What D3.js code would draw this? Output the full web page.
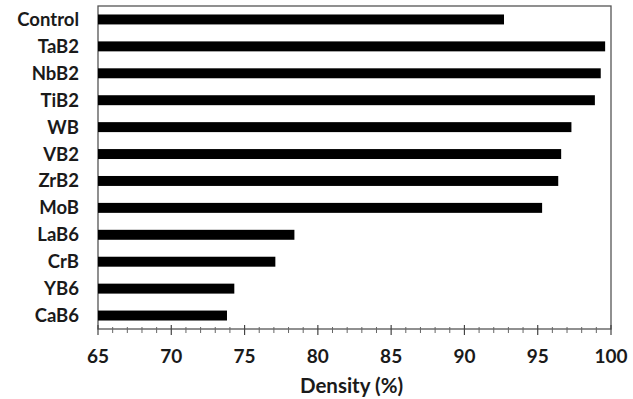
<!DOCTYPE html>
<html>
<head>
<meta charset="utf-8">
<script src="https://cdn.jsdelivr.net/npm/d3@7"></script>
<style>
	body { margin: 0; background: #fff; }
	text { font-family: Lato, "Open Sans", sans-serif; font-weight: bold; fill: #1a1a1a; }
</style>
</head>
<body>
<svg id="svg_plot" width="633" height="399"></svg>
<script>
const categories = ["Control", "TaB2", "NbB2", "TiB2", "WB", "VB2", "ZrB2", "MoB", "LaB6", "CrB", "YB6", "CaB6"];
const density = [92.7, 99.6, 99.3, 98.9, 97.3, 96.6, 96.4, 95.3, 78.4, 77.1, 74.3, 73.8];
const x_ticks = [65, 70, 75, 80, 85, 90, 95, 100];
const x_label = "Density (%)";

const margin = {top: 6, right: 22, bottom: 70, left: 98};
const W = 633, H = 399;
const width = W - margin.left - margin.right;
const height = H - margin.top - margin.bottom;

let svg = d3.select("#svg_plot");
let plot = svg.append("g")
	.attr("transform", "translate(" + margin.left + "," + margin.top + ")");

let xscale = d3.scaleLinear().domain([65, 100]).range([0, width]);
let yscale = d3.scaleBand().domain(categories).range([0, height]).paddingInner(0.63).paddingOuter(0.315);

// frame
plot.append("rect")
	.attr("x", 0).attr("y", 0)
	.attr("width", width).attr("height", height)
	.attr("fill", "none")
	.attr("stroke", "#555")
	.attr("stroke-width", 1.3);

plot.selectAll(".bar")
	.data(categories)
	.join("rect")
	.attr("class", "bar")
	.attr("x", 0)
	.attr("y", d => yscale(d))
	.attr("width", (d, i) => xscale(density[i]))
	.attr("height", yscale.bandwidth())
	.attr("fill", "#000");

// minor ticks
plot.append("g")
	.attr("transform", "translate(0," + height + ")")
	.selectAll("line")
	.data(d3.range(66, 100).filter(v => v % 5 != 0))
	.join("line")
	.attr("x1", d => xscale(d)).attr("x2", d => xscale(d))
	.attr("y1", -2).attr("y2", 4)
	.attr("stroke", "#666").attr("stroke-width", 1);

// major ticks + labels
let xaxis = plot.append("g")
	.attr("transform", "translate(0," + height + ")");
xaxis.selectAll("line")
	.data(x_ticks)
	.join("line")
	.attr("x1", d => xscale(d)).attr("x2", d => xscale(d))
	.attr("y1", -4).attr("y2", 6)
	.attr("stroke", "#444").attr("stroke-width", 1.2);
xaxis.selectAll("text")
	.data(x_ticks)
	.join("text")
	.attr("x", d => xscale(d))
	.attr("y", 27)
	.attr("dy", "0.35em")
	.attr("text-anchor", "middle")
	.style("font-size", "19px")
	.text(d => d);

// category labels
plot.selectAll(".cat")
	.data(categories)
	.join("text")
	.attr("class", "cat")
	.attr("x", -19)
	.attr("y", d => yscale(d) + yscale.bandwidth() / 2)
	.attr("dy", "0.35em")
	.attr("text-anchor", "end")
	.style("font-size", "18.5px")
	.text(d => d);

plot.append("text")
	.attr("x", xscale(82.5) - 3)
	.attr("y", height + 57)
	.attr("dy", "0.35em")
	.attr("text-anchor", "middle")
	.style("font-size", "20.5px")
	.text(x_label);
</script>
</body>
</html>
